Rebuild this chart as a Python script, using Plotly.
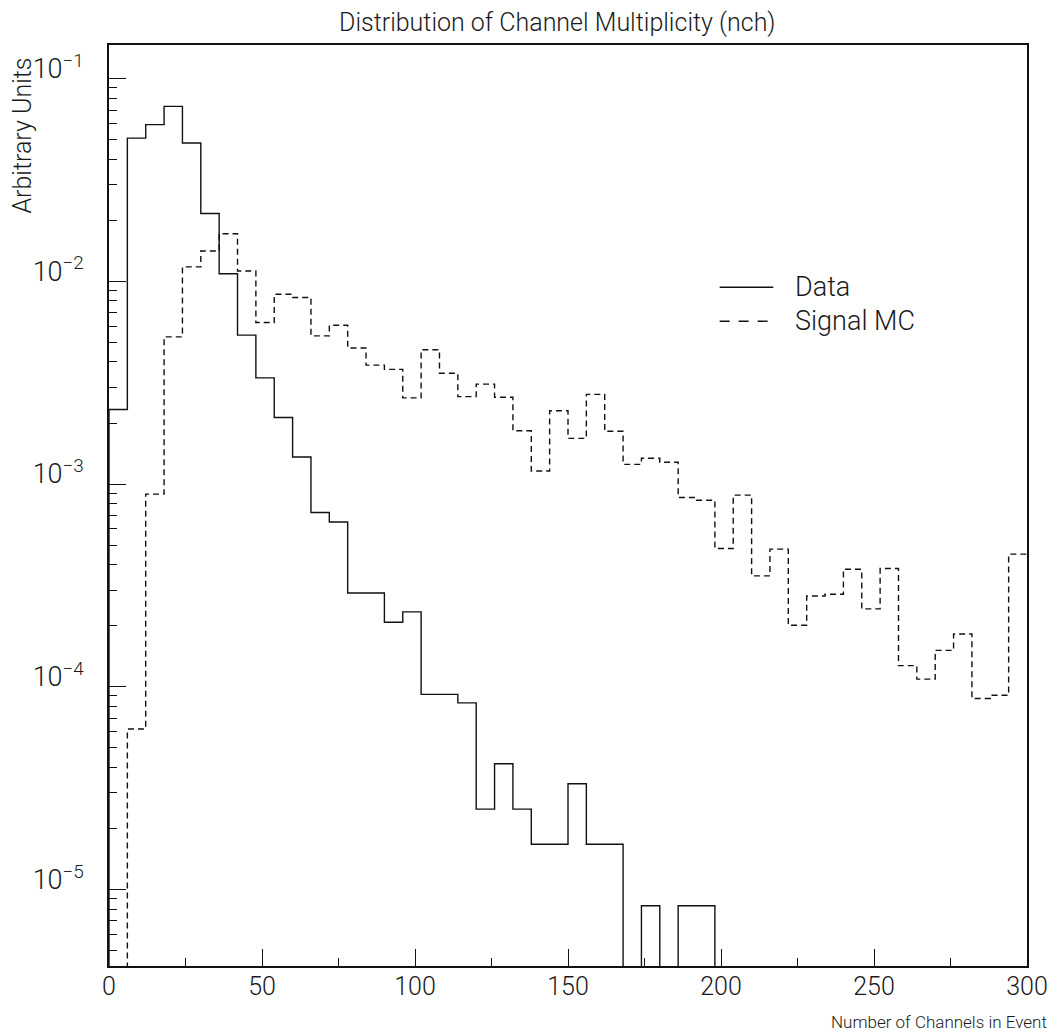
import plotly.graph_objects as go

# Histogram binning: 50 bins of width 6 over nch = 0..300
bin_edges = list(range(0, 301, 6))

# Normalised bin contents (arbitrary units)
data_vals = [
    0.00233, 0.0509, 0.0593, 0.0730, 0.0481, 0.0216, 0.0109, 0.00543, 0.00334, 0.00213,
    0.00136, 0.000723, 0.000650, 0.000290, 0.000290, 0.000208, 0.000234, 9.16e-5, 9.16e-5, 8.32e-5,
    2.49e-5, 4.17e-5, 2.49e-5, 1.67e-5, 1.67e-5, 3.32e-5, 1.67e-5, 1.67e-5, 0.0, 8.3e-6,
    0.0, 8.3e-6, 8.3e-6, 0.0, 0.0, 0.0, 0.0, 0.0, 0.0, 0.0,
    0.0, 0.0, 0.0, 0.0, 0.0, 0.0, 0.0, 0.0, 0.0, 0.0,
]
mc_vals = [
    0.0, 6.18e-5, 0.000891, 0.00532, 0.01178, 0.01412, 0.01718, 0.01125, 0.00626, 0.00863,
    0.00832, 0.00538, 0.00607, 0.00469, 0.00386, 0.00368, 0.00266, 0.00460, 0.00352, 0.00270,
    0.00311, 0.00268, 0.00183, 0.00116, 0.00230, 0.00168, 0.00277, 0.00182, 0.00125, 0.00134,
    0.00128, 0.000858, 0.000832, 0.000481, 0.000881, 0.000352, 0.000477, 0.000201, 0.000280, 0.000286,
    0.000380, 0.000242, 0.000383, 0.000127, 0.000109, 0.000151, 0.000182, 8.75e-5, 9.07e-5, 0.000451,
]

series_names = ["Data", "Signal MC"]

FLOOR = 1e-9  # empty bins fall below the visible log range
FONT = "Roboto"
INK = "#1a1a1a"


def step_xy(vals):
    """Turn bin contents into an 'hv' step outline starting from the floor."""
    ys = [v if v > 0 else FLOOR for v in vals]
    x = [bin_edges[0]] + bin_edges[:-1] + [bin_edges[-1]]
    y = [FLOOR] + ys + [ys[-1]]
    return x, y


fig = go.Figure()

xd, yd = step_xy(data_vals)
fig.add_trace(go.Scatter(
    x=xd, y=yd, mode="lines", name=series_names[0],
    line=dict(shape="hv", color="#111111", width=1.4),
    showlegend=False, hoverinfo="skip",
))

xm, ym = step_xy(mc_vals)
fig.add_trace(go.Scatter(
    x=xm, y=ym, mode="lines", name=series_names[1],
    line=dict(shape="hv", color="#111111", width=1.4, dash="6px,4px"),
    showlegend=False, hoverinfo="skip",
))

# Decade tick labels for the log axis
decades = [-5, -4, -3, -2, -1]
y_tickvals = [10.0 ** d for d in decades]
y_ticktext = ["10<sup>\u2212%d</sup>" % (-d) for d in decades]

x_tickvals = [0, 50, 100, 150, 200, 250, 300]

fig.update_layout(
    width=1060, height=1036,
    margin=dict(l=109, r=27, t=45, b=70),
    paper_bgcolor="white", plot_bgcolor="white",
    font=dict(family=FONT, color=INK, size=20, weight=300),
    showlegend=False,
)

fig.update_xaxes(
    range=[0, 300],
    tickvals=x_tickvals,
    ticktext=[str(v) for v in x_tickvals],
    ticks="inside", ticklen=17, tickwidth=1.2, tickcolor="#111111",
    minor=dict(ticks="inside", ticklen=8, tickwidth=1.2, tickcolor="#111111",
               tickvals=[25, 75, 125, 175, 225, 275]),
    showline=True, linecolor="#111111", linewidth=1.5, mirror=True,
    showgrid=False, zeroline=False,
    tickfont=dict(family=FONT, size=25, color=INK, weight=300),
    ticklabelstandoff=-3,
)

fig.update_yaxes(
    type="log",
    range=[-5.378, -0.834],
    tickvals=y_tickvals, ticktext=y_ticktext,
    ticks="inside", ticklen=17, tickwidth=1.2, tickcolor="#111111",
    minor=dict(ticks="inside", ticklen=8, tickwidth=1.2, tickcolor="#111111",
               dtick="D1"),
    showline=True, linecolor="#111111", linewidth=1.5, mirror=True,
    showgrid=False, zeroline=False,
    tickfont=dict(family=FONT, size=27, color=INK, weight=300),
    ticklabelstandoff=18,
    ticklabelshift=-10,
)

# Title and axis captions
fig.add_annotation(
    text="Distribution of Channel Multiplicity (nch)",
    xref="paper", yref="paper", x=(561 - 109.3) / 924.1, y=(966 - 22) / 921.3,
    xanchor="center", yanchor="middle", showarrow=False,
    font=dict(family=FONT, size=25, color=INK, weight=300),
)
fig.add_annotation(
    text="Arbitrary Units", textangle=-90,
    xref="paper", yref="paper", x=(22 - 109.3) / 924.1, y=(966 - 55) / 921.3,
    xanchor="center", yanchor="top", showarrow=False,
    font=dict(family=FONT, size=25, color=INK, weight=300),
)
fig.add_annotation(
    text="Number of Channels in Event",
    xref="paper", yref="paper", x=(1056 - 109.3) / 924.1, y=(966 - 1022) / 921.3,
    xanchor="right", yanchor="middle", showarrow=False,
    font=dict(family=FONT, size=17, color=INK, weight=300),
)

# Legend box drawn as line samples with labels
legend_rows = [(287, "solid"), (321, "10px,9px")]
for name, (py, dash) in zip(series_names, legend_rows):
    yp = (966 - py) / 921.3
    fig.add_shape(
        type="line", xref="paper", yref="paper",
        x0=(724 - 109.3) / 924.1, x1=(778 - 109.3) / 924.1, y0=yp, y1=yp,
        line=dict(color="#111111", width=1.4, dash=dash),
    )
    fig.add_annotation(
        text=name, xref="paper", yref="paper",
        x=(798 - 109.3) / 924.1, y=yp, xanchor="left", yanchor="middle",
        showarrow=False, font=dict(family=FONT, size=27, color=INK, weight=300),
    )

fig.write_html("out.html")
